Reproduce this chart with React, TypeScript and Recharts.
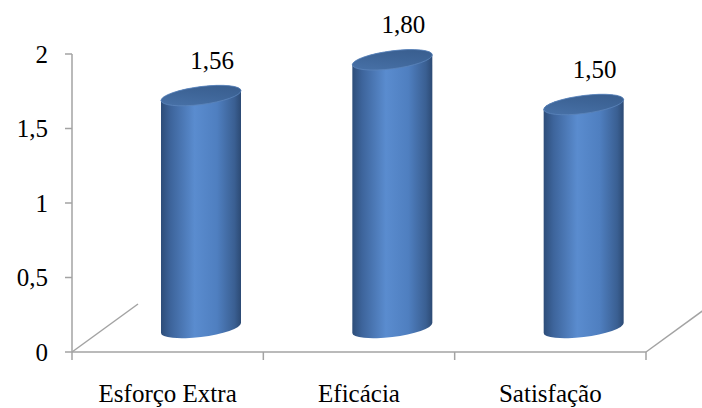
import React from 'react';
import { BarChart, Bar, XAxis, YAxis } from 'recharts';

const categories = ['Esforço Extra', 'Eficácia', 'Satisfação'];
const values = [1.56, 1.8, 1.5];
const yTicks = [0, 0.5, 1, 1.5, 2];

const data = categories.map((name, i) => ({ name, value: values[i] }));

const FONT = '"Liberation Serif", "Times New Roman", serif';
const AXIS = '#a3a3a3';
const DEPTH_X = 66;
const DEPTH_Y = 48;
const SHIFT_X = DEPTH_X / 2;
const SHIFT_Y = DEPTH_Y / 2;
const RY = 9;

const fmt = (v: number, d: number) => v.toFixed(d).replace('.', ',');
const fmtTick = (v: number) => (Number.isInteger(v) ? String(v) : fmt(v, 1));

const YTick = (props: any) => {
  const { x, y, payload } = props;
  return (
    <g>
      <line x1={x - 7} y1={y} x2={x} y2={y} stroke={AXIS} strokeWidth={1.5} />
      <text x={x - 24} y={y + 8.5} textAnchor="end" fontFamily={FONT} fontSize={25} fill="#000">
        {fmtTick(payload.value)}
      </text>
    </g>
  );
};

const FloorTick = (props: any) => {
  const { x, y, payload, index, width } = props;
  const bw = width / categories.length;
  const left = x - bw / 2;
  const right = x + bw / 2;
  const last = index === categories.length - 1;
  return (
    <g>
      <line x1={right} y1={y} x2={right} y2={y + 8} stroke={AXIS} strokeWidth={1.5} />
      {index === 0 && (
        <>
          <line x1={left} y1={y} x2={left} y2={y + 8} stroke={AXIS} strokeWidth={1.5} />
          <line x1={left} y1={y} x2={left + DEPTH_X} y2={y - DEPTH_Y} stroke={AXIS} strokeWidth={1.5} />
        </>
      )}
      {last && (
        <line x1={right} y1={y} x2={right + DEPTH_X} y2={y - DEPTH_Y} stroke={AXIS} strokeWidth={1.5} />
      )}
      <text x={x} y={y + 50} textAnchor="middle" fontFamily={FONT} fontSize={25} fill="#000">
        {payload.value}
      </text>
    </g>
  );
};

const Cylinder = (props: any) => {
  const { x, y, width, height, index, payload } = props;
  const rx = width / 2;
  const cx = x + rx + SHIFT_X;
  const top = y - SHIFT_Y;
  const bot = y + height - SHIFT_Y;
  const L = cx - rx;
  const R = cx + rx;
  const gid = `cylGrad${index}`;
  const tid = `cylTop${index}`;
  return (
    <g>
      <defs>
        <linearGradient id={gid} x1="0" y1="0" x2="1" y2="0">
          <stop offset="0%" stopColor="#2d4d79" />
          <stop offset="12%" stopColor="#3d649b" />
          <stop offset="42%" stopColor="#5a8ccf" />
          <stop offset="70%" stopColor="#4f7fc0" />
          <stop offset="92%" stopColor="#3a5f92" />
          <stop offset="100%" stopColor="#2c4a74" />
        </linearGradient>
        <linearGradient id={tid} x1="0" y1="1" x2="1" y2="0">
          <stop offset="0%" stopColor="#4a74ab" />
          <stop offset="55%" stopColor="#3e6598" />
          <stop offset="100%" stopColor="#375b8b" />
        </linearGradient>
      </defs>
      <g transform={`translate(${cx} 0) skewY(-7) translate(${-cx} 0)`}>
        <path
          d={`M${L},${top} L${L},${bot} A${rx},${RY} 0 0 0 ${R},${bot} L${R},${top} A${rx},${RY} 0 0 0 ${L},${top} Z`}
          fill={`url(#${gid})`}
        />
        <ellipse
          cx={cx}
          cy={top}
          rx={rx}
          ry={RY}
          fill={`url(#${tid})`}
          stroke="#5b84bb"
          strokeWidth={0.8}
        />
      </g>
      <text x={cx + 11} y={top - 27} textAnchor="middle" fontFamily={FONT} fontSize={25} fill="#000">
        {fmt(payload.value, 2)}
      </text>
    </g>
  );
};

export default function App() {
  return (
    <div style={{ position: 'absolute', left: 0, top: 0, background: '#fff' }}>
      <BarChart
        width={702}
        height={408}
        data={data}
        margin={{ top: 54, right: 56, bottom: 0, left: 0 }}
      >
        <XAxis
          dataKey="name"
          interval={0}
          height={56}
          tickSize={0}
          tickMargin={0}
          tickLine={false}
          axisLine={{ stroke: AXIS, strokeWidth: 1.5 }}
          tick={<FloorTick />}
        />
        <YAxis
          domain={[0, 2]}
          ticks={yTicks}
          interval={0}
          width={72}
          tickSize={0}
          tickMargin={0}
          tickLine={false}
          axisLine={{ stroke: AXIS, strokeWidth: 1.5 }}
          tick={<YTick />}
        />
        <Bar dataKey="value" barSize={80} shape={<Cylinder />} isAnimationActive={false} />
      </BarChart>
    </div>
  );
}
